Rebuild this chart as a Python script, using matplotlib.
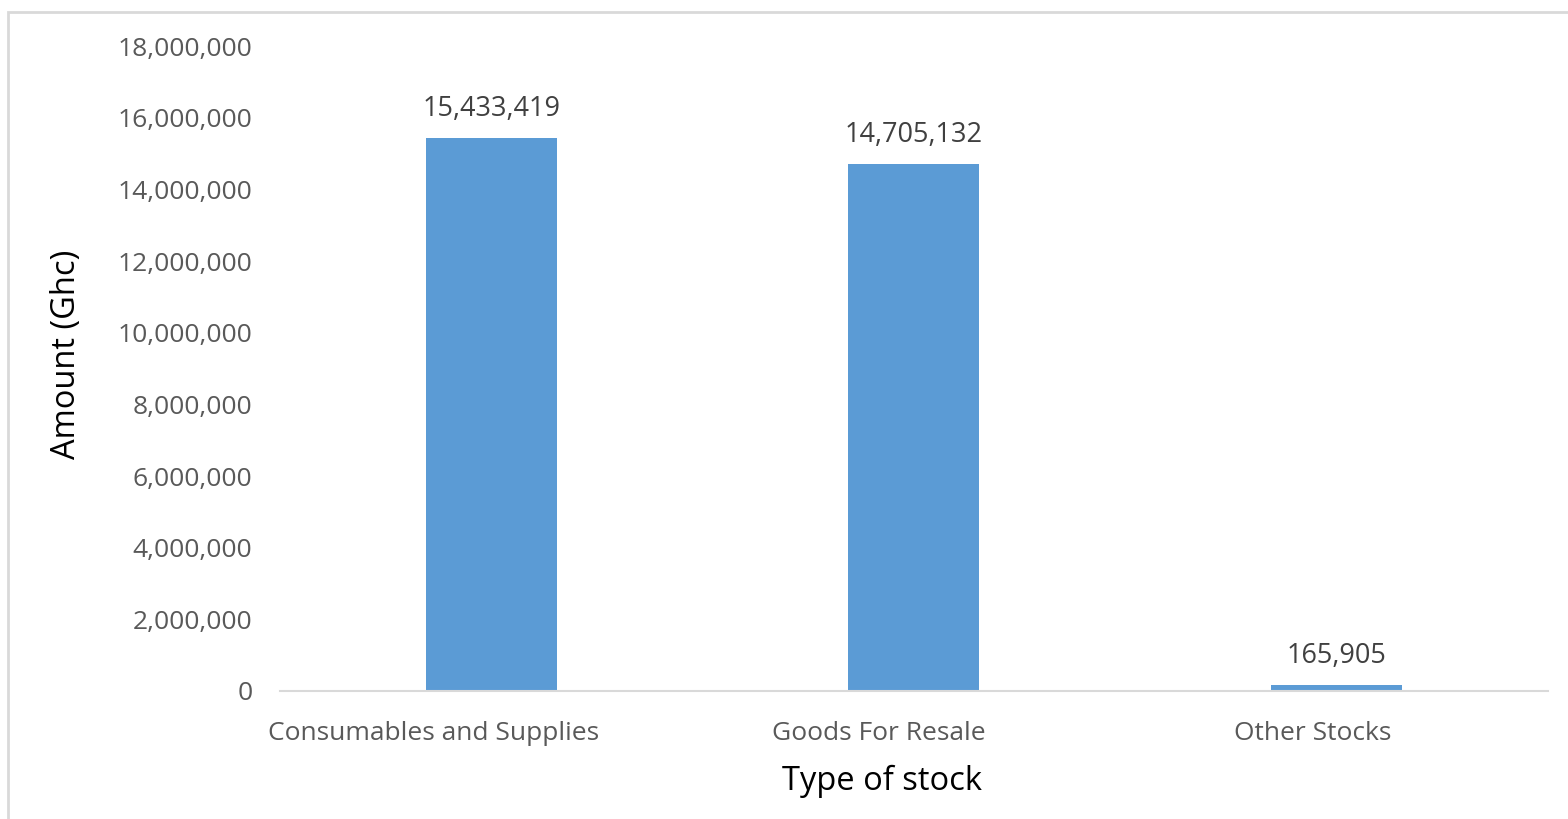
import matplotlib.pyplot as plt
from matplotlib.patches import Rectangle
from matplotlib.ticker import FuncFormatter
from matplotlib.transforms import ScaledTranslation

# data
categories = ['Consumables and Supplies', 'Goods For Resale', 'Other Stocks']
amounts = [15433419, 14705132, 165905]

bar_color = '#5B9BD5'
text_color = '#595959'

plt.rcParams['font.family'] = ['Open Sans', 'DejaVu Sans']

fig = plt.figure(figsize=(15.68, 8.19), dpi=100)
ax = fig.add_axes([0.1786, 0.1563, 0.8084, 0.7875])

x = range(len(categories))
bars = ax.bar(x, amounts, width=0.31, color=bar_color)
ax.bar_label(bars, labels=[f'{v:,}' for v in amounts], padding=11,
             fontsize=19.5, color='#404040')

ax.set_xlim(-0.5, len(categories) - 0.5)
ax.set_ylim(0, 18000000)
ax.set_yticks(range(0, 18000001, 2000000))
ax.yaxis.set_major_formatter(FuncFormatter(lambda v, p: f'{int(v):,}'))
ax.set_xticks(list(x))
ax.set_xticklabels(categories)

for side in ['top', 'right', 'left']:
    ax.spines[side].set_visible(False)
ax.spines['bottom'].set_color('#D9D9D9')
ax.spines['bottom'].set_linewidth(1.5)

ax.tick_params(axis='both', length=0, labelsize=19, labelcolor=text_color)
ax.tick_params(axis='x', pad=21.5)
ax.tick_params(axis='y', pad=20)

# category labels sit a little left of the bar centres in the original
shifts = [-41.8, -25.2, -17.3]
for lab, dx in zip(ax.get_xticklabels(), shifts):
    lab.set_transform(lab.get_transform() + ScaledTranslation(dx / 72, 0, fig.dpi_scale_trans))

ax.set_xlabel('Type of stock', fontsize=23.5, color='black')
ax.set_ylabel('Amount (Ghc)', fontsize=23.5, color='black')
ax.xaxis.set_label_coords(0.4748, -0.1146)
ax.yaxis.set_label_coords(-0.1553, 0.5225)

# chart border (only top/left edges visible in the crop)
fig.patches.append(Rectangle((8 / 1568, -0.1), 1.2, 1 - 12 / 819 + 0.1,
                             transform=fig.transFigure, fill=False,
                             edgecolor='#D9D9D9', linewidth=2))

fig.savefig('out.png', dpi=100)
